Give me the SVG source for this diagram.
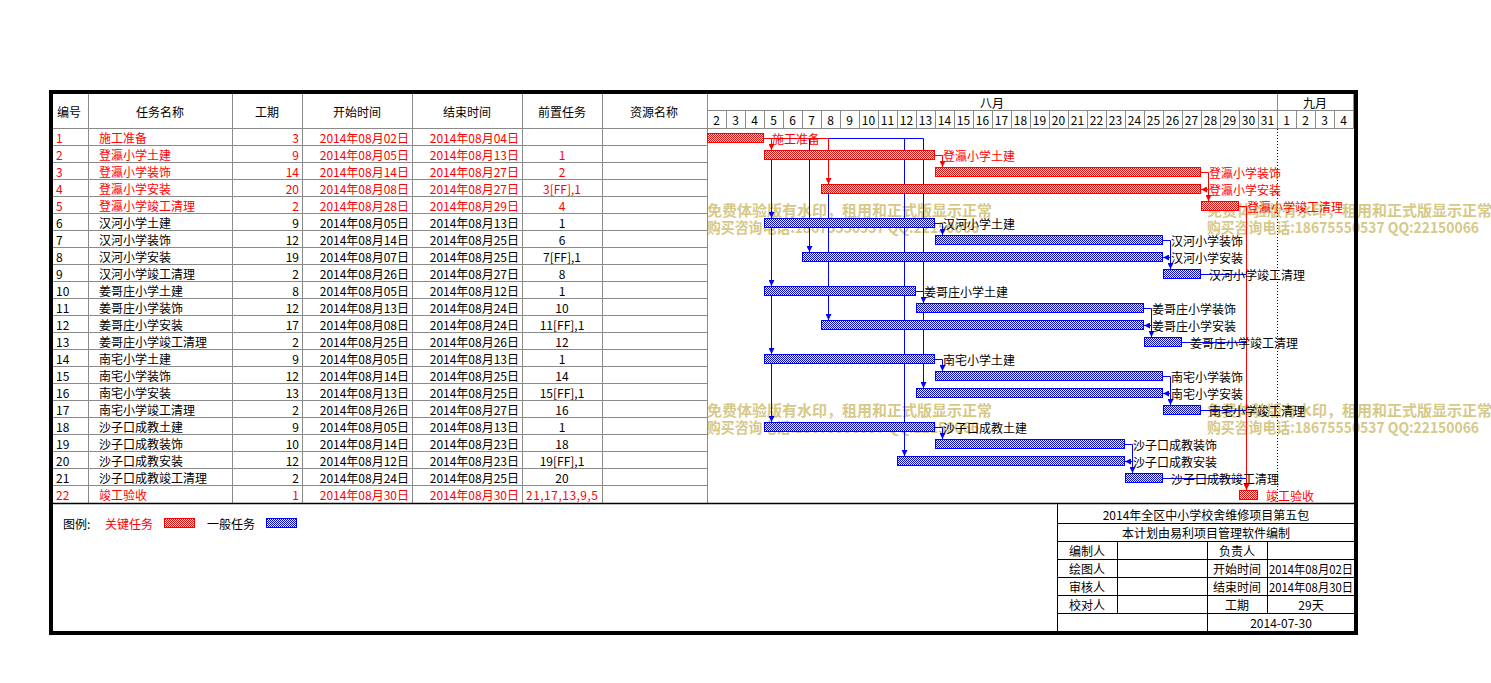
<svg xmlns="http://www.w3.org/2000/svg" width="1491" height="683" viewBox="0 0 1491 683">
<style>
text{font-family:"Noto Sans CJK SC","Noto Sans",sans-serif;font-size:12px;dominant-baseline:central;fill:#000}
.r{fill:#f00}
.m{text-anchor:middle}
.e{text-anchor:end}
.g{stroke:#8a8a8a;stroke-width:1;fill:none}
.k{stroke:#000;stroke-width:1;fill:none}
.wm{font-size:15px;font-weight:bold;fill:#d6c988}
.br{fill:url(#hr);stroke:#f00;stroke-width:1}
.bb{fill:url(#hb);stroke:#00f;stroke-width:1}
.cr{stroke:#f00;stroke-width:1;fill:none}
.cb{stroke:#00f;stroke-width:1;fill:none}
.ar{marker-end:url(#mr)}
.ab{marker-end:url(#mb)}
</style>
<defs>
<pattern id="hr" width="2" height="2" patternUnits="userSpaceOnUse"><rect width="2" height="2" fill="#fff"/><rect width="1" height="1" fill="#f00"/><rect x="1" y="1" width="1" height="1" fill="#f00"/></pattern>
<pattern id="hb" width="2" height="2" patternUnits="userSpaceOnUse"><rect width="2" height="2" fill="#fff"/><rect width="1" height="1" fill="#00f"/><rect x="1" y="1" width="1" height="1" fill="#00f"/></pattern>
<marker id="mr" viewBox="0 0 6 6" refX="6" refY="3" markerWidth="6" markerHeight="6" orient="auto" markerUnits="userSpaceOnUse"><path d="M0,0 L6,3 L0,6 z" fill="#f00"/></marker>
<marker id="mb" viewBox="0 0 6 6" refX="6" refY="3" markerWidth="6" markerHeight="6" orient="auto" markerUnits="userSpaceOnUse"><path d="M0,0 L6,3 L0,6 z" fill="#00f"/></marker>
</defs>
<rect width="1491" height="683" fill="#fff"/>

<g id="watermark">
<text class="wm" x="707" y="209">免费体验版有水印，租用和正式版显示正常</text>
<text class="wm" x="707" y="226" textLength="272" lengthAdjust="spacingAndGlyphs">购买咨询电话:18675550537 QQ:22150066</text>
<text class="wm" x="1207" y="209">免费体验版有水印，租用和正式版显示正常</text>
<text class="wm" x="1207" y="226" textLength="272" lengthAdjust="spacingAndGlyphs">购买咨询电话:18675550537 QQ:22150066</text>
<text class="wm" x="707" y="409">免费体验版有水印，租用和正式版显示正常</text>
<text class="wm" x="707" y="426" textLength="272" lengthAdjust="spacingAndGlyphs">购买咨询电话:18675550537 QQ:22150066</text>
<text class="wm" x="1207" y="409">免费体验版有水印，租用和正式版显示正常</text>
<text class="wm" x="1207" y="426" textLength="272" lengthAdjust="spacingAndGlyphs">购买咨询电话:18675550537 QQ:22150066</text>
</g>

<g id="table-grid">
<path class="g" d="M50,128.5H1354 M50,145.5H707 M50,162.5H707 M50,179.5H707 M50,196.5H707 M50,213.5H707 M50,230.5H707 M50,247.5H707 M50,264.5H707 M50,281.5H707 M50,298.5H707 M50,315.5H707 M50,332.5H707 M50,349.5H707 M50,366.5H707 M50,383.5H707 M50,400.5H707 M50,417.5H707 M50,434.5H707 M50,451.5H707 M50,468.5H707 M50,485.5H707"/>
<path class="g" d="M88.5,93V503 M232.5,93V503 M302.5,93V503 M412.5,93V503 M522.5,93V503 M602.5,93V503 M707.5,93V503"/>
<path class="g" d="M707,110.5H1354 M1277.5,93V128 M1353.5,93V128 M726.5,110V128 M745.5,110V128 M764.5,110V128 M783.5,110V128 M802.5,110V128 M821.5,110V128 M840.5,110V128 M859.5,110V128 M878.5,110V128 M897.5,110V128 M916.5,110V128 M935.5,110V128 M954.5,110V128 M973.5,110V128 M992.5,110V128 M1011.5,110V128 M1030.5,110V128 M1049.5,110V128 M1068.5,110V128 M1087.5,110V128 M1106.5,110V128 M1125.5,110V128 M1144.5,110V128 M1163.5,110V128 M1182.5,110V128 M1201.5,110V128 M1220.5,110V128 M1239.5,110V128 M1258.5,110V128 M1296.5,110V128 M1315.5,110V128 M1334.5,110V128"/>
<path d="M1277.5,129V503" stroke="#000" stroke-width="1" stroke-dasharray="1 2" fill="none"/>
</g>

<g id="header">
<text class="m" x="69" y="111">编号</text>
<text class="m" x="160" y="111">任务名称</text>
<text class="m" x="267" y="111">工期</text>
<text class="m" x="357" y="111">开始时间</text>
<text class="m" x="467" y="111">结束时间</text>
<text class="m" x="562" y="111">前置任务</text>
<text class="m" x="654" y="111">资源名称</text>
<text class="m" x="992" y="102">八月</text>
<text class="m" x="1315" y="102">九月</text>
<text class="m" x="716.5" y="119">2</text><text class="m" x="735.5" y="119">3</text><text class="m" x="754.5" y="119">4</text><text class="m" x="773.5" y="119">5</text><text class="m" x="792.5" y="119">6</text><text class="m" x="811.5" y="119">7</text><text class="m" x="830.5" y="119">8</text><text class="m" x="849.5" y="119">9</text><text class="m" x="868.5" y="119">10</text><text class="m" x="887.5" y="119">11</text><text class="m" x="906.5" y="119">12</text><text class="m" x="925.5" y="119">13</text><text class="m" x="944.5" y="119">14</text><text class="m" x="963.5" y="119">15</text><text class="m" x="982.5" y="119">16</text><text class="m" x="1001.5" y="119">17</text><text class="m" x="1020.5" y="119">18</text><text class="m" x="1039.5" y="119">19</text><text class="m" x="1058.5" y="119">20</text><text class="m" x="1077.5" y="119">21</text><text class="m" x="1096.5" y="119">22</text><text class="m" x="1115.5" y="119">23</text><text class="m" x="1134.5" y="119">24</text><text class="m" x="1153.5" y="119">25</text><text class="m" x="1172.5" y="119">26</text><text class="m" x="1191.5" y="119">27</text><text class="m" x="1210.5" y="119">28</text><text class="m" x="1229.5" y="119">29</text><text class="m" x="1248.5" y="119">30</text><text class="m" x="1267.5" y="119">31</text><text class="m" x="1286.5" y="119">1</text><text class="m" x="1305.5" y="119">2</text><text class="m" x="1324.5" y="119">3</text><text class="m" x="1343.5" y="119">4</text>
</g>

<g id="rows">
<g id="row-1"><text class="r" x="56" y="137.5">1</text><text class="r" x="99" y="137.5">施工准备</text><text class="r e" x="299" y="137.5">3</text><text class="r e" x="409" y="137.5">2014年08月02日</text><text class="r e" x="519" y="137.5">2014年08月04日</text></g>
<g id="row-2"><text class="r" x="56" y="154.5">2</text><text class="r" x="99" y="154.5">登瀛小学土建</text><text class="r e" x="299" y="154.5">9</text><text class="r e" x="409" y="154.5">2014年08月05日</text><text class="r e" x="519" y="154.5">2014年08月13日</text><text class="r m" x="562" y="154.5">1</text></g>
<g id="row-3"><text class="r" x="56" y="171.5">3</text><text class="r" x="99" y="171.5">登瀛小学装饰</text><text class="r e" x="299" y="171.5">14</text><text class="r e" x="409" y="171.5">2014年08月14日</text><text class="r e" x="519" y="171.5">2014年08月27日</text><text class="r m" x="562" y="171.5">2</text></g>
<g id="row-4"><text class="r" x="56" y="188.5">4</text><text class="r" x="99" y="188.5">登瀛小学安装</text><text class="r e" x="299" y="188.5">20</text><text class="r e" x="409" y="188.5">2014年08月08日</text><text class="r e" x="519" y="188.5">2014年08月27日</text><text class="r m" x="562" y="188.5">3[FF],1</text></g>
<g id="row-5"><text class="r" x="56" y="205.5">5</text><text class="r" x="99" y="205.5">登瀛小学竣工清理</text><text class="r e" x="299" y="205.5">2</text><text class="r e" x="409" y="205.5">2014年08月28日</text><text class="r e" x="519" y="205.5">2014年08月29日</text><text class="r m" x="562" y="205.5">4</text></g>
<g id="row-6"><text x="56" y="222.5">6</text><text x="99" y="222.5">汉河小学土建</text><text class="e" x="299" y="222.5">9</text><text class="e" x="409" y="222.5">2014年08月05日</text><text class="e" x="519" y="222.5">2014年08月13日</text><text class="m" x="562" y="222.5">1</text></g>
<g id="row-7"><text x="56" y="239.5">7</text><text x="99" y="239.5">汉河小学装饰</text><text class="e" x="299" y="239.5">12</text><text class="e" x="409" y="239.5">2014年08月14日</text><text class="e" x="519" y="239.5">2014年08月25日</text><text class="m" x="562" y="239.5">6</text></g>
<g id="row-8"><text x="56" y="256.5">8</text><text x="99" y="256.5">汉河小学安装</text><text class="e" x="299" y="256.5">19</text><text class="e" x="409" y="256.5">2014年08月07日</text><text class="e" x="519" y="256.5">2014年08月25日</text><text class="m" x="562" y="256.5">7[FF],1</text></g>
<g id="row-9"><text x="56" y="273.5">9</text><text x="99" y="273.5">汉河小学竣工清理</text><text class="e" x="299" y="273.5">2</text><text class="e" x="409" y="273.5">2014年08月26日</text><text class="e" x="519" y="273.5">2014年08月27日</text><text class="m" x="562" y="273.5">8</text></g>
<g id="row-10"><text x="56" y="290.5">10</text><text x="99" y="290.5">姜哥庄小学土建</text><text class="e" x="299" y="290.5">8</text><text class="e" x="409" y="290.5">2014年08月05日</text><text class="e" x="519" y="290.5">2014年08月12日</text><text class="m" x="562" y="290.5">1</text></g>
<g id="row-11"><text x="56" y="307.5">11</text><text x="99" y="307.5">姜哥庄小学装饰</text><text class="e" x="299" y="307.5">12</text><text class="e" x="409" y="307.5">2014年08月13日</text><text class="e" x="519" y="307.5">2014年08月24日</text><text class="m" x="562" y="307.5">10</text></g>
<g id="row-12"><text x="56" y="324.5">12</text><text x="99" y="324.5">姜哥庄小学安装</text><text class="e" x="299" y="324.5">17</text><text class="e" x="409" y="324.5">2014年08月08日</text><text class="e" x="519" y="324.5">2014年08月24日</text><text class="m" x="562" y="324.5">11[FF],1</text></g>
<g id="row-13"><text x="56" y="341.5">13</text><text x="99" y="341.5">姜哥庄小学竣工清理</text><text class="e" x="299" y="341.5">2</text><text class="e" x="409" y="341.5">2014年08月25日</text><text class="e" x="519" y="341.5">2014年08月26日</text><text class="m" x="562" y="341.5">12</text></g>
<g id="row-14"><text x="56" y="358.5">14</text><text x="99" y="358.5">南宅小学土建</text><text class="e" x="299" y="358.5">9</text><text class="e" x="409" y="358.5">2014年08月05日</text><text class="e" x="519" y="358.5">2014年08月13日</text><text class="m" x="562" y="358.5">1</text></g>
<g id="row-15"><text x="56" y="375.5">15</text><text x="99" y="375.5">南宅小学装饰</text><text class="e" x="299" y="375.5">12</text><text class="e" x="409" y="375.5">2014年08月14日</text><text class="e" x="519" y="375.5">2014年08月25日</text><text class="m" x="562" y="375.5">14</text></g>
<g id="row-16"><text x="56" y="392.5">16</text><text x="99" y="392.5">南宅小学安装</text><text class="e" x="299" y="392.5">13</text><text class="e" x="409" y="392.5">2014年08月13日</text><text class="e" x="519" y="392.5">2014年08月25日</text><text class="m" x="562" y="392.5">15[FF],1</text></g>
<g id="row-17"><text x="56" y="409.5">17</text><text x="99" y="409.5">南宅小学竣工清理</text><text class="e" x="299" y="409.5">2</text><text class="e" x="409" y="409.5">2014年08月26日</text><text class="e" x="519" y="409.5">2014年08月27日</text><text class="m" x="562" y="409.5">16</text></g>
<g id="row-18"><text x="56" y="426.5">18</text><text x="99" y="426.5">沙子口成教土建</text><text class="e" x="299" y="426.5">9</text><text class="e" x="409" y="426.5">2014年08月05日</text><text class="e" x="519" y="426.5">2014年08月13日</text><text class="m" x="562" y="426.5">1</text></g>
<g id="row-19"><text x="56" y="443.5">19</text><text x="99" y="443.5">沙子口成教装饰</text><text class="e" x="299" y="443.5">10</text><text class="e" x="409" y="443.5">2014年08月14日</text><text class="e" x="519" y="443.5">2014年08月23日</text><text class="m" x="562" y="443.5">18</text></g>
<g id="row-20"><text x="56" y="460.5">20</text><text x="99" y="460.5">沙子口成教安装</text><text class="e" x="299" y="460.5">12</text><text class="e" x="409" y="460.5">2014年08月12日</text><text class="e" x="519" y="460.5">2014年08月23日</text><text class="m" x="562" y="460.5">19[FF],1</text></g>
<g id="row-21"><text x="56" y="477.5">21</text><text x="99" y="477.5">沙子口成教竣工清理</text><text class="e" x="299" y="477.5">2</text><text class="e" x="409" y="477.5">2014年08月24日</text><text class="e" x="519" y="477.5">2014年08月25日</text><text class="m" x="562" y="477.5">20</text></g>
<g id="row-22"><text class="r" x="56" y="494.5">22</text><text class="r" x="99" y="494.5">竣工验收</text><text class="r e" x="299" y="494.5">1</text><text class="r e" x="409" y="494.5">2014年08月30日</text><text class="r e" x="519" y="494.5">2014年08月30日</text><text class="r m" x="562" y="494.5" textLength="72" lengthAdjust="spacing">21,17,13,9,5</text></g>
</g>

<g id="connectors">
<path class="cb ab" d="M764,138.5H771.5V218"/>
<path class="cb ab" d="M771.5,218V286"/>
<path class="cb ab" d="M771.5,286V354"/>
<path class="cb ab" d="M771.5,354V422"/>
<path class="cb ab" d="M764,138.5H809.5V252"/>
<path class="cb ab" d="M764,138.5H828.5V320"/>
<path class="cb ab" d="M764,138.5H904.5V456"/>
<path class="cb ab" d="M764,138.5H923.5V388"/>
<path class="cb ab" d="M935,223.5H942.5V235"/>
<path class="cb ab" d="M1163,240.5H1170.5V257.5H1163"/>
<path class="cb ab" d="M1163,257.5H1170.5V269"/>
<path class="cb" d="M1201,274.5H1246.5"/>
<path class="cb ab" d="M916,291.5H923.5V303"/>
<path class="cb ab" d="M1144,308.5H1151.5V325.5H1144"/>
<path class="cb ab" d="M1144,325.5H1151.5V337"/>
<path class="cb" d="M1182,342.5H1246.5"/>
<path class="cb ab" d="M935,359.5H942.5V371"/>
<path class="cb ab" d="M1163,376.5H1170.5V393.5H1163"/>
<path class="cb ab" d="M1163,393.5H1170.5V405"/>
<path class="cb" d="M1201,410.5H1246.5"/>
<path class="cb ab" d="M935,427.5H942.5V439"/>
<path class="cb ab" d="M1125,444.5H1132.5V461.5H1125"/>
<path class="cb ab" d="M1125,461.5H1132.5V473"/>
<path class="cb" d="M1163,478.5H1246.5"/>
<path class="cr ar" d="M764,138.5H771.5V150"/>
<path class="cr ar" d="M764,138.5H828.5V184"/>
<path class="cr ar" d="M935,155.5H942.5V167"/>
<path class="cr ar" d="M1201,172.5H1208.5V189.5H1201"/>
<path class="cr ar" d="M1201,189.5H1208.5V201"/>
<path class="cr ar" d="M1239,206.5H1246.5V490"/>
</g>

<g id="task-1"><rect class="br" x="707.5" y="133.5" width="56" height="9"/><text class="r" x="772" y="138">施工准备</text></g>
<g id="task-2"><rect class="br" x="764.5" y="150.5" width="170" height="9"/><text class="r" x="943" y="155">登瀛小学土建</text></g>
<g id="task-3"><rect class="br" x="935.5" y="167.5" width="265" height="9"/><text class="r" x="1209" y="172">登瀛小学装饰</text></g>
<g id="task-4"><rect class="br" x="821.5" y="184.5" width="379" height="9"/><text class="r" x="1209" y="189">登瀛小学安装</text></g>
<g id="task-5"><rect class="br" x="1201.5" y="201.5" width="37" height="9"/><text class="r" x="1247" y="206">登瀛小学竣工清理</text></g>
<g id="task-6"><rect class="bb" x="764.5" y="218.5" width="170" height="9"/><text x="943" y="223">汉河小学土建</text></g>
<g id="task-7"><rect class="bb" x="935.5" y="235.5" width="227" height="9"/><text x="1171" y="240">汉河小学装饰</text></g>
<g id="task-8"><rect class="bb" x="802.5" y="252.5" width="360" height="9"/><text x="1171" y="257">汉河小学安装</text></g>
<g id="task-9"><rect class="bb" x="1163.5" y="269.5" width="37" height="9"/><text x="1209" y="274">汉河小学竣工清理</text></g>
<g id="task-10"><rect class="bb" x="764.5" y="286.5" width="151" height="9"/><text x="924" y="291">姜哥庄小学土建</text></g>
<g id="task-11"><rect class="bb" x="916.5" y="303.5" width="227" height="9"/><text x="1152" y="308">姜哥庄小学装饰</text></g>
<g id="task-12"><rect class="bb" x="821.5" y="320.5" width="322" height="9"/><text x="1152" y="325">姜哥庄小学安装</text></g>
<g id="task-13"><rect class="bb" x="1144.5" y="337.5" width="37" height="9"/><text x="1190" y="342">姜哥庄小学竣工清理</text></g>
<g id="task-14"><rect class="bb" x="764.5" y="354.5" width="170" height="9"/><text x="943" y="359">南宅小学土建</text></g>
<g id="task-15"><rect class="bb" x="935.5" y="371.5" width="227" height="9"/><text x="1171" y="376">南宅小学装饰</text></g>
<g id="task-16"><rect class="bb" x="916.5" y="388.5" width="246" height="9"/><text x="1171" y="393">南宅小学安装</text></g>
<g id="task-17"><rect class="bb" x="1163.5" y="405.5" width="37" height="9"/><text x="1209" y="410">南宅小学竣工清理</text></g>
<g id="task-18"><rect class="bb" x="764.5" y="422.5" width="170" height="9"/><text x="943" y="427">沙子口成教土建</text></g>
<g id="task-19"><rect class="bb" x="935.5" y="439.5" width="189" height="9"/><text x="1133" y="444">沙子口成教装饰</text></g>
<g id="task-20"><rect class="bb" x="897.5" y="456.5" width="227" height="9"/><text x="1133" y="461">沙子口成教安装</text></g>
<g id="task-21"><rect class="bb" x="1125.5" y="473.5" width="37" height="9"/><text x="1171" y="478">沙子口成教竣工清理</text></g>
<g id="task-22"><rect class="br" x="1239.5" y="490.5" width="18" height="9"/><text class="r" x="1266" y="495">竣工验收</text></g>

<g id="legend">
<text x="63" y="523">图例:</text>
<text class="r" x="105" y="523">关键任务</text>
<rect class="br" x="164.5" y="518.5" width="30" height="9"/>
<text x="207" y="523">一般任务</text>
<rect class="bb" x="266.5" y="518.5" width="30" height="9"/>
</g>

<g id="title-block">
<path class="k" d="M1057,523.5H1355 M1057,541.5H1355 M1057,559.5H1355 M1057,577.5H1355 M1057,595.5H1355 M1057,613.5H1355 M1057.5,503V632 M1117.5,541V613 M1207.5,541V632 M1267.5,541V613"/>
<text class="m" x="1206" y="514">2014年全区中小学校舍维修项目第五包</text>
<text class="m" x="1206" y="532.5">本计划由易利项目管理软件编制</text>
<text class="m" x="1087" y="550.5">编制人</text>
<text class="m" x="1237" y="550.5">负责人</text>
<text class="m" x="1087" y="568.5">绘图人</text>
<text class="m" x="1237" y="568.5">开始时间</text>
<text class="m" x="1311" y="568.5" textLength="84" lengthAdjust="spacingAndGlyphs">2014年08月02日</text>
<text class="m" x="1087" y="586.5">审核人</text>
<text class="m" x="1237" y="586.5">结束时间</text>
<text class="m" x="1311" y="586.5" textLength="84" lengthAdjust="spacingAndGlyphs">2014年08月30日</text>
<text class="m" x="1087" y="604.5">校对人</text>
<text class="m" x="1237" y="604.5">工期</text>
<text class="m" x="1311" y="604.5">29天</text>
<text class="m" x="1281" y="622.5">2014-07-30</text>
</g>

<g id="frame">
<path d="M50,503.5H1355" stroke="#000" stroke-width="1.5" fill="none"/>
<rect x="51" y="92" width="1305" height="541" fill="none" stroke="#000" stroke-width="4"/>
</g>
</svg>
